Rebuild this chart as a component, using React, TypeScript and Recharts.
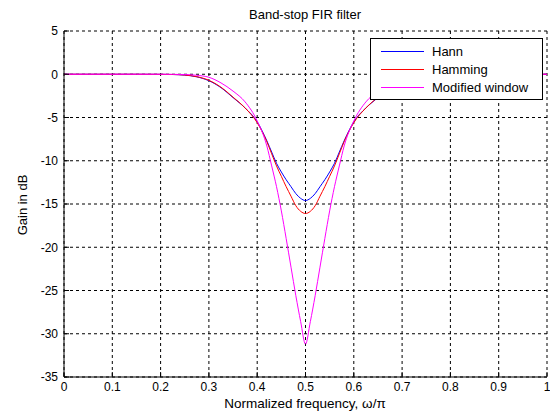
import { LineChart, Line, XAxis, YAxis, CartesianGrid, Legend } from "recharts";

// normalized frequency (w/pi)
const freq = [
  0, 0.05, 0.1, 0.15, 0.2, 0.225, 0.25, 0.275, 0.3, 0.325, 0.35, 0.375, 0.4,
  0.42, 0.43, 0.44, 0.45, 0.46, 0.47, 0.48, 0.49, 0.5, 0.51, 0.52, 0.53, 0.54,
  0.55, 0.56, 0.57, 0.58, 0.6, 0.625, 0.65, 0.675, 0.7, 0.725, 0.75, 0.775,
  0.8, 0.85, 0.9, 0.95, 1,
];

// gain in dB
const hann = [
  0, 0, 0, 0, -0.01, -0.03, -0.1, -0.3, -0.75, -1.55, -2.7, -3.9, -5.5,
  -7.7, -9.0, -10.3, -11.3, -12.2, -13.0, -13.8, -14.35, -14.6, -14.35,
  -13.8, -13.0, -12.2, -11.3, -10.3, -9.0, -7.7, -5.5, -3.9, -2.7, -1.55,
  -0.75, -0.3, -0.1, -0.03, -0.01, 0, 0, 0, 0,
];
const hamming = [
  0, 0, 0, 0, -0.01, -0.03, -0.09, -0.28, -0.7, -1.5, -2.65, -3.9, -5.6,
  -7.8, -9.2, -10.6, -11.8, -13.0, -14.1, -15.2, -15.85, -16.1, -15.85,
  -15.2, -14.1, -13.0, -11.8, -10.6, -9.2, -7.8, -5.6, -3.9, -2.65, -1.5,
  -0.7, -0.28, -0.09, -0.03, -0.01, 0, 0, 0, 0,
];
const modified = [
  0, 0, 0, 0, 0, -0.01, -0.03, -0.12, -0.35, -1.0, -1.95, -3.2, -5.4,
  -8.3, -10.6, -13.0, -15.8, -19.0, -22.3, -25.6, -28.6, -31.2, -28.6,
  -25.6, -22.3, -19.0, -15.8, -13.0, -10.6, -8.3, -5.4, -3.2, -1.95, -1.0,
  -0.35, -0.12, -0.03, -0.01, 0, 0, 0, 0, 0,
];

const xTicks = [0, 0.1, 0.2, 0.3, 0.4, 0.5, 0.6, 0.7, 0.8, 0.9, 1];
const yTicks = [-35, -30, -25, -20, -15, -10, -5, 0, 5];

const series = [
  { key: "hann", name: "Hann", color: "#0000ff" },
  { key: "hamming", name: "Hamming", color: "#ff0000" },
  { key: "modified", name: "Modified window", color: "#ff00ff" },
];

const data = freq.map((f, i) => ({
  f,
  hann: hann[i],
  hamming: hamming[i],
  modified: modified[i],
}));

const FONT = "Arial, 'Liberation Sans', sans-serif";

function LegendBox() {
  return (
    <div
      style={{
        width: 173,
        height: 62,
        boxSizing: "border-box",
        border: "1px solid #000",
        background: "#fff",
        padding: "3px 0 0 10px",
        fontFamily: FONT,
        fontSize: 13,
        color: "#000",
      }}
    >
      {series.map((s) => (
        <div key={s.key} style={{ display: "flex", alignItems: "center", height: 18 }}>
          <svg width={43} height={3} style={{ marginRight: 8, display: "block" }}>
            <line x1={0} y1={1.5} x2={43} y2={1.5} stroke={s.color} strokeWidth={1} />
          </svg>
          <span>{s.name}</span>
        </div>
      ))}
    </div>
  );
}

export default function App() {
  const tick = { fontSize: 12, fill: "#000", fontFamily: FONT };
  return (
    <div
      style={{
        position: "absolute",
        left: 0,
        top: 0,
        width: 550,
        height: 413,
        background: "#fff",
        fontFamily: FONT,
      }}
    >
      <LineChart
        width={550}
        height={413}
        data={data}
        margin={{ top: 31, right: 3, left: 4, bottom: 6 }}
      >
        <CartesianGrid stroke="#000" strokeDasharray="3 3" />
        <XAxis
          dataKey="f"
          type="number"
          domain={[0, 1]}
          ticks={xTicks}
          height={30}
          tick={tick}
          tickSize={-5}
          tickMargin={10}
          stroke="#000"
        />
        <XAxis
          xAxisId="top"
          dataKey="f"
          type="number"
          orientation="top"
          domain={[0, 1]}
          ticks={xTicks}
          height={0}
          tickSize={-5}
          tickFormatter={() => ""}
          stroke="#000"
        />
        <YAxis
          type="number"
          domain={[-35, 5]}
          ticks={yTicks}
          width={60}
          tick={tick}
          tickSize={-5}
          tickMargin={11}
          stroke="#000"
        />
        <YAxis
          yAxisId="right"
          type="number"
          orientation="right"
          domain={[-35, 5]}
          ticks={yTicks}
          width={0}
          tickSize={-5}
          tickFormatter={() => ""}
          stroke="#000"
        />
        <Legend
          layout="horizontal"
          align="center"
          verticalAlign="middle"
          content={() => <LegendBox />}
          wrapperStyle={{ top: 38, left: 370, width: 173, height: 62 }}
        />
        {series.map((s) => (
          <Line
            key={s.key}
            type="monotone"
            dataKey={s.key}
            name={s.name}
            stroke={s.color}
            strokeWidth={1}
            dot={false}
            isAnimationActive={false}
          />
        ))}
      </LineChart>
      <div
        style={{
          position: "absolute",
          top: 7,
          left: 0,
          width: 610,
          textAlign: "center",
          fontSize: 13,
        }}
      >
        Band-stop FIR filter
      </div>
      <div
        style={{
          position: "absolute",
          top: 396,
          left: 0,
          width: 610,
          textAlign: "center",
          fontSize: 13.5,
        }}
      >
        Normalized frequency, ω/π
      </div>
      <div
        style={{
          position: "absolute",
          left: 22,
          top: 205,
          fontSize: 13,
          whiteSpace: "nowrap",
          transform: "translate(-50%, -50%) rotate(-90deg)",
        }}
      >
        Gain in dB
      </div>
    </div>
  );
}
